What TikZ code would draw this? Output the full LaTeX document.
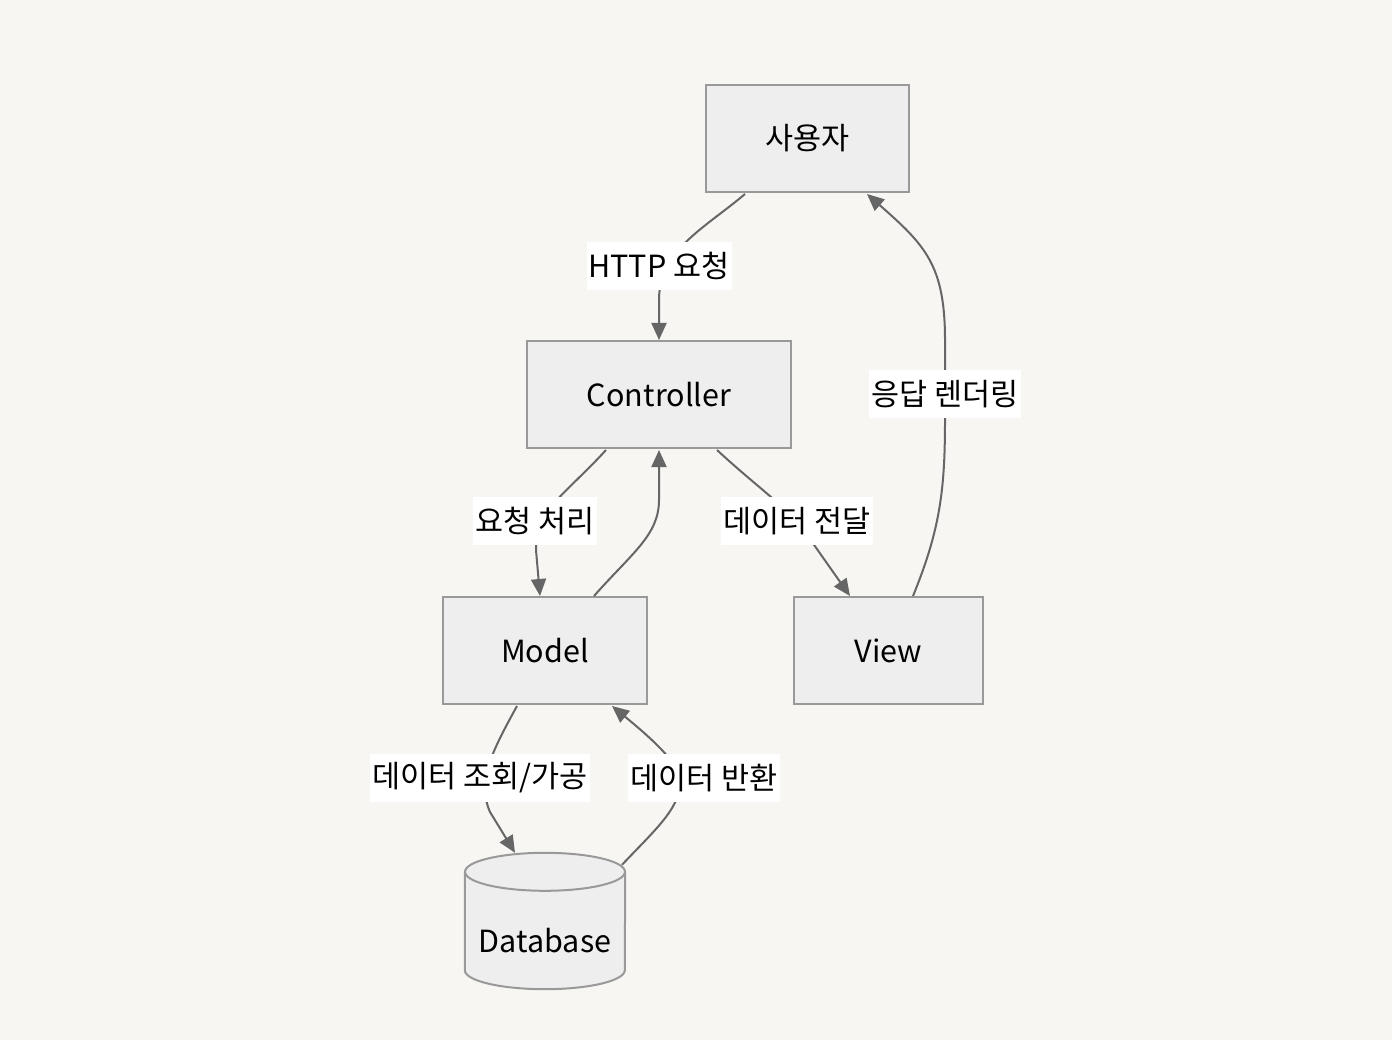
\documentclass[tikz,border=0pt]{standalone}
\usepackage{fontspec}
\setmainfont{Noto Sans CJK KR}
\usetikzlibrary{arrows.meta,calc}
\definecolor{bgc}{RGB}{247,246,243}
\definecolor{nfill}{RGB}{238,238,238}
\definecolor{nborder}{RGB}{153,153,153}
\definecolor{edgec}{RGB}{102,102,102}
\tikzset{
  box/.style={draw=nborder, fill=nfill, line width=2pt, minimum height=107pt, inner sep=0pt, font=\fontsize{30.5}{34}\selectfont},
  elabel/.style={fill=white, inner xsep=2pt, inner ysep=0pt, minimum height=48pt, font=\fontsize{30.5}{34}\selectfont},
  conn/.style={draw=edgec, line width=2pt, -{Triangle[length=17pt,width=15pt]}},
}
\begin{document}
\begin{tikzpicture}[x=1pt,y=-1pt]
\fill[bgc] (0,0) rectangle (1392,1040);
\useasboundingbox (0,0) rectangle (1392,1040);

\node[box, minimum width=203pt] (user) at (807.5,138.5) {사용자};
\node[box, minimum width=264pt] (ctrl) at (659,394.5) {Controller};
\node[box, minimum width=204pt] (model) at (545,650.5) {Model};
\node[box, minimum width=189pt] (view) at (888.5,650.5) {View};

% database cylinder
\node[minimum width=160pt, minimum height=136pt, inner sep=0pt] (db) at (545,921) {};
\filldraw[fill=nfill, draw=nborder, line width=2pt]
  ($(db.north west)+(0,19)$) -- ($(db.south west)+(0,-19)$)
  arc[start angle=180, end angle=0, x radius=80, y radius=19]
  -- ($(db.north east)+(0,19)$);
\filldraw[fill=nfill, draw=nborder, line width=2pt] ($(db.north)+(0,19)$) ellipse[x radius=80, y radius=19];
\node[font=\fontsize{30.5}{34}\selectfont, inner sep=0pt] (dbtext) at ($(db.center)+(0,20)$) {Database};

% edges
\draw[conn] ($(user.south)+(-62.5,1)$) .. controls (705,228) and (659,250) .. (659,300) -- (ctrl.north);
\draw[conn] ($(ctrl.south)+(-53,1)$) .. controls (565,495) and (535,510) .. (536,550) -- ($(model.north)+(-5,0)$);
\draw[conn] ($(model.north)+(49,0)$) .. controls (632,553) and (659,535) .. (659,500) -- ($(ctrl.south)+(0,1)$);
\draw[conn] ($(ctrl.south)+(58,1)$) .. controls (760,490) and (790,508) .. (812,542) -- ($(view.north)+(-38.5,0)$);
\draw[conn] ($(view.north)+(24.5,0)$) .. controls (940,530) and (945,490) .. (945,420) -- (945,340) .. controls (945,265) and (925,245) .. ($(user.south)+(59.5,1)$);
\draw[conn] ($(model.south)+(-28,1)$) .. controls (490,755) and (477,782) .. (490,812) -- ($(db.north)+(-30,0)$);
\draw[conn] ($(db.north)+(77,12)$) .. controls (655,830) and (678,810) .. (680,785) .. controls (680,768) and (668,752) .. ($(model.south)+(67,1)$);

% edge labels
\node[elabel] (l1) at (659,266) {HTTP 요청};
\node[elabel] (l2) at (535,521) {요청 처리};
\node[elabel] (l3) at (797,521) {데이터 전달};
\node[elabel] (l4) at (945,394) {응답 렌더링};
\node[elabel] (l5) at (480,778) {데이터 조회/가공};
\node[elabel] (l6) at (704,778) {데이터 반환};
\end{tikzpicture}
\end{document}
